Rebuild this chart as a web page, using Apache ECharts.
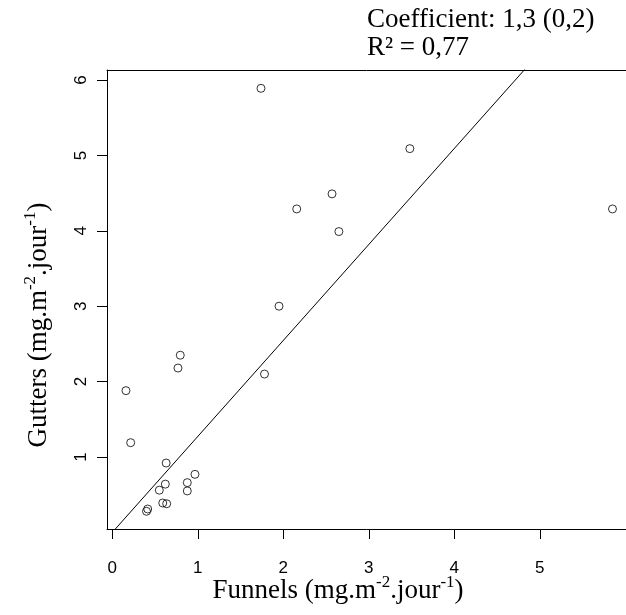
<!DOCTYPE html>
<html>
<head>
<meta charset="utf-8">
<script src="https://cdn.jsdelivr.net/npm/echarts@6/dist/echarts.min.js"></script>
<style>html,body{margin:0;padding:0;background:#fff}#c{width:626px;height:615px}</style>
</head>
<body>
<div id="c"></div>
<script>
// Data: Funnels (x) vs Gutters (y)
const funnels = [0.16, 0.215, 0.63, 0.62, 0.55, 0.967, 0.877, 0.877, 0.59, 0.636, 0.414, 0.40,
                 0.795, 0.768, 1.739, 2.57, 2.157, 2.65, 1.95, 1.78, 3.48, 5.85];
const gutters = [1.88, 1.19, 0.92, 0.64, 0.56, 0.77, 0.66, 0.55, 0.39, 0.38, 0.31, 0.28,
                 2.35, 2.18, 5.89, 4.49, 4.29, 3.99, 3.00, 2.10, 5.09, 4.29];
const fitSlope = 1.273;          // regression through origin
const fitXRange = [0, 6];
const xTicks = [0, 1, 2, 3, 4, 5];
const yTicks = [1, 2, 3, 4, 5, 6];
const annotLines = ['Coefficient: 1,3 (0,2)', 'R² = 0,77'];

const serif = 'Liberation Serif';
const sans = 'Liberation Sans';

const points = funnels.map((v, i) => [v, gutters[i]]);
const fitLine = fitXRange.map(x => [x, fitSlope * x]);

const titleRich = {
  a: {fontFamily: serif, fontSize: 27, fill: '#000', verticalAlign: 'bottom', lineHeight: 30},
  s: {fontFamily: serif, fontSize: 17, fill: '#000', verticalAlign: 'top', lineHeight: 30}
};

const chart = echarts.init(document.getElementById('c'), null, {renderer: 'canvas'});
chart.setOption({
  animation: false,
  backgroundColor: '#fff',
  grid: {left: 107, top: 70, right: 0, height: 459, show: false},
  xAxis: [{
    type: 'value', min: -0.062, max: 6.008, position: 'bottom',
    splitLine: {show: false},
    axisLine: {show: true, onZero: false, lineStyle: {color: '#000', width: 1}},
    axisTick: {show: true, length: 10, lineStyle: {color: '#000'}, customValues: xTicks},
    axisLabel: {color: '#000', fontFamily: sans, fontSize: 17, margin: 31, customValues: xTicks}
  }, {
    type: 'value', min: -0.062, max: 6.008, position: 'top',
    splitLine: {show: false},
    axisLine: {show: true, onZero: false, lineStyle: {color: '#000', width: 1}},
    axisTick: {show: false}, axisLabel: {show: false}
  }],
  yAxis: {
    type: 'value', min: 0.045, max: 6.133,
    splitLine: {show: false},
    axisLine: {show: true, onZero: false, lineStyle: {color: '#000', width: 1}},
    axisTick: {show: true, length: 10, lineStyle: {color: '#000'}, customValues: yTicks},
    axisLabel: {color: '#000', fontFamily: sans, fontSize: 17, margin: 17, rotate: 90, customValues: yTicks}
  },
  series: [
    {
      type: 'scatter', data: points, symbol: 'circle', symbolSize: 8,
      itemStyle: {color: 'rgba(0,0,0,0)', borderColor: '#000', borderWidth: 1}
    },
    {
      type: 'line', data: fitLine, showSymbol: false, clip: true,
      lineStyle: {color: '#000', width: 1}
    }
  ],
  graphic: [
    {type: 'text', left: 367, top: 6, style: {text: annotLines[0], font: '27px "' + serif + '"', fill: '#000'}},
    {type: 'text', left: 367, top: 34, style: {text: annotLines[1], font: '27px "' + serif + '"', fill: '#000'}},
    {type: 'text', x: 338, y: 589,
     style: {text: '{a|Funnels (mg.m}{s|-2}{a|.jour}{s|-1}{a|)}', align: 'center', verticalAlign: 'middle', rich: titleRich}},
    {type: 'text', x: 37, y: 325, rotation: Math.PI / 2,
     style: {text: '{a|Gutters (mg.m}{s|-2}{a|.jour}{s|-1}{a|)}', align: 'center', verticalAlign: 'middle', rich: titleRich}}
  ]
});
</script>
</body>
</html>
